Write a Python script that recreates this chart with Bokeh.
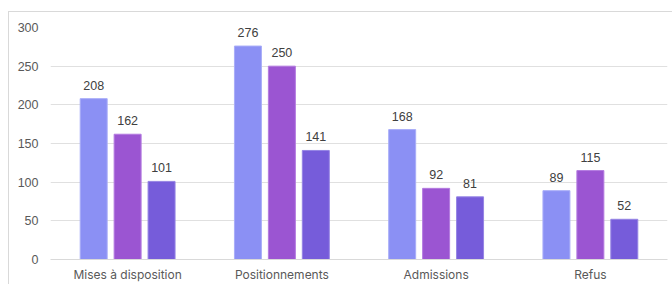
from bokeh.plotting import figure
from bokeh.models import ColumnDataSource, FactorRange, Range1d, SingleIntervalTicker
from bokeh.transform import dodge
from bokeh.embed import file_html
from bokeh.resources import INLINE
from bokeh.core.properties import value

categories = ["Mises à disposition", "Positionnements", "Admissions", "Refus"]
serie_1 = [208, 276, 168, 89]
serie_2 = [162, 250, 92, 115]
serie_3 = [101, 141, 81, 52]

fills = ["#8B90F4", "#9B55D2", "#765CDA"]
lines = ["#A9ADF8", "#B47BE0", "#9584E4"]
offsets = [-0.22, 0.0, 0.22]

src = ColumnDataSource(dict(cat=categories, s1=serie_1, s2=serie_2, s3=serie_3,
                            l1=[str(v) for v in serie_1],
                            l2=[str(v) for v in serie_2],
                            l3=[str(v) for v in serie_3]))

p = figure(width=672, height=284, x_range=FactorRange(*categories),
           y_range=Range1d(0, 300), output_backend="svg", toolbar_location=None,
           min_border_left=50, min_border_right=5, min_border_top=27, min_border_bottom=25)
p.x_range.range_padding = 0
p.outline_line_color = None
p.background_fill_color = None
p.border_fill_color = None
# thin chart-area border at top and left (inset shadows)
p.styles = {"box-shadow": "inset 8px 11px 0 0 #ffffff, inset 9px 12px 0 0 #d9d9d9",
            "background-color": "#ffffff"}

for i, key in enumerate(["s1", "s2", "s3"]):
    p.vbar(x=dodge("cat", offsets[i], range=p.x_range), top=key, width=0.175,
           source=src, fill_color=fills[i], line_color=lines[i], line_width=1)
    p.text(x=dodge("cat", offsets[i], range=p.x_range), y=key, text="l%d" % (i + 1),
           source=src, text_align="center", text_baseline="bottom", y_offset=-9,
           text_font=value("Liberation Sans"), text_font_size="12.5px",
           text_color="#404040")

p.xgrid.grid_line_color = None
p.ygrid.grid_line_color = "#e0e0e0"
p.ygrid.grid_line_width = 1
p.yaxis.ticker = SingleIntervalTicker(interval=50)
p.yaxis.axis_line_color = None
p.yaxis.major_tick_line_color = None
p.yaxis.minor_tick_line_color = None
p.yaxis.major_tick_out = 0
p.yaxis.major_tick_in = 0
p.yaxis.minor_tick_out = 0
p.yaxis.major_label_standoff = 12
p.yaxis.major_label_text_font = "Liberation Sans"
p.yaxis.major_label_text_font_size = "12.5px"
p.yaxis.major_label_text_color = "#595959"

p.xaxis.axis_line_color = "#d9d9d9"
p.xaxis.major_tick_line_color = None
p.xaxis.minor_tick_line_color = None
p.xaxis.major_tick_out = 0
p.xaxis.major_tick_in = 0
p.xaxis.minor_tick_out = 0
p.xaxis.major_label_standoff = 7
p.xaxis.major_label_text_font = "Inter"
p.xaxis.major_label_text_font_size = "12px"
p.xaxis.major_label_text_color = "#595959"

open("out.html", "w").write(file_html(p, INLINE))
